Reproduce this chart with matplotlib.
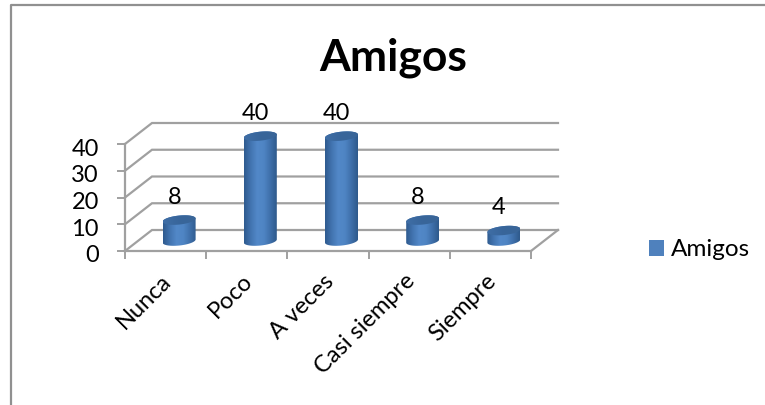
import matplotlib
matplotlib.use('Agg')
import matplotlib.pyplot as plt
import numpy as np
from matplotlib.lines import Line2D
from matplotlib.patches import Patch, Polygon
from matplotlib.colors import LinearSegmentedColormap
from matplotlib.transforms import ScaledTranslation

categories = ['Nunca', 'Poco', 'A veces', 'Casi siempre', 'Siempre']
values = [8, 40, 40, 8, 4]
series_name = 'Amigos'
y_ticks = [0, 10, 20, 30, 40]

plt.rcParams['font.family'] = ['Lato', 'DejaVu Sans']

W, H = 765, 405
GREY = '#a0a0a0'

fig = plt.figure(figsize=(W / 100, H / 100), dpi=100)
ax = fig.add_axes([125 / W, 1 - 251 / H, 406 / W, 107 / H])
ax.set_xlim(0, 5)
ax.set_ylim(0, 40)
ax.patch.set_visible(False)

for s in ['top', 'right']:
    ax.spines[s].set_visible(False)
for s in ['left', 'bottom']:
    ax.spines[s].set_color(GREY)
    ax.spines[s].set_linewidth(1.6)

ax.set_yticks(y_ticks)
ax.tick_params(axis='y', length=5.8, width=1.4, color=GREY, labelsize=17, pad=13)
ax.set_xticks(range(6))
ax.set_xticklabels([])
ax.tick_params(axis='x', which='major', length=6, width=1.4, color=GREY)
ax.set_xticks(np.arange(5) + 0.5, categories, minor=True, rotation=45, ha='right', rotation_mode='anchor')
ax.tick_params(axis='x', which='minor', length=0, labelsize=17, pad=14)

# nudge the labels to where the reference has them
for lab in ax.get_yticklabels():
    lab.set_transform(lab.get_transform() + ScaledTranslation(0, -3 / 100, fig.dpi_scale_trans))
for lab in ax.get_xticklabels(minor=True):
    lab.set_transform(lab.get_transform() + ScaledTranslation(-5 / 100, 0, fig.dpi_scale_trans))

# depth of the fake 3d box, in data units
dx = 27 / (406 / 5)
dy = 21 / (107 / 40)

for v in y_ticks:
    ax.plot([0, dx, 5 + dx], [v, v + dy, v + dy], color=GREY, lw=1.6, clip_on=False, zorder=1, solid_joinstyle='miter')
ax.plot([5, 5 + dx], [0, dy], color=GREY, lw=1.6, clip_on=False, zorder=1)

body_cmap = LinearSegmentedColormap.from_list('body', ['#2f5b8f', '#4274b0', '#5288c8', '#4f85c4', '#3f70ab', '#2f5a8c'])
top_cmap = LinearSegmentedColormap.from_list('top', ['#3f6ea6', '#38659a', '#3a6698'])

half_w = 16.5 / (406 / 5)
half_h = 4.5 / (107 / 40)
tilt = 0.6  # right side of the ellipses sits a little higher
t = np.linspace(0, 2 * np.pi, 121)
ex = half_w * np.cos(t)
ey = half_h * np.sin(t) + tilt * np.cos(t)
grad = np.linspace(0, 1, 64).reshape(1, -1)

for i, v in enumerate(values):
    cx = i + 0.5 + dx / 2
    base = dy / 2 - 0.2
    top = base + v * 0.98
    upper = t <= np.pi
    lower = t >= np.pi
    # side of the cylinder: top half of upper ellipse then bottom half of base
    px = np.r_[cx + ex[upper], cx + ex[lower]]
    py = np.r_[top + ey[upper], base + ey[lower]]
    body = Polygon(np.c_[px, py], closed=True, fc='none', ec='none', clip_on=False)
    ax.add_patch(body)
    im = ax.imshow(grad, cmap=body_cmap, aspect='auto', zorder=3,
                   extent=[cx - half_w, cx + half_w, base - half_h - 2, top + half_h + 2])
    im.set_clip_box(fig.bbox)
    im.set_clip_path(body)
    cap = Polygon(np.c_[cx + ex, top + ey], closed=True, fc='none', ec='none', clip_on=False)
    ax.add_patch(cap)
    im2 = ax.imshow(grad, cmap=top_cmap, aspect='auto', zorder=4,
                    extent=[cx - half_w, cx + half_w, top - half_h - 2, top + half_h + 2])
    im2.set_clip_box(fig.bbox)
    im2.set_clip_path(cap)
    ax.text(cx - 0.06, top + 8.5, str(v), ha='center', va='center', fontsize=17, color='black', zorder=5)

ax.set_xlim(0, 5)
ax.set_ylim(0, 40)

fig.text(393 / W, 1 - 58 / H, series_name, fontsize=32, fontweight='bold', ha='center', va='center')

leg = ax.legend(handles=[Patch(fc='#4f81bd', ec='none', label=series_name)], loc='center left',
                bbox_to_anchor=(649 / W, 1 - 250 / H), bbox_transform=fig.transFigure, frameon=False,
                fontsize=17.5, handlelength=0.62, handleheight=0.62, handletextpad=0.3, borderpad=0, borderaxespad=0)

# outer chart border (only top and left are inside the crop)
fig.add_artist(Line2D([11 / W, 11 / W, 1], [0, 1 - 5 / H, 1 - 5 / H], color='#909090', lw=1.6, transform=fig.transFigure))

fig.savefig('out.png', dpi=100)
